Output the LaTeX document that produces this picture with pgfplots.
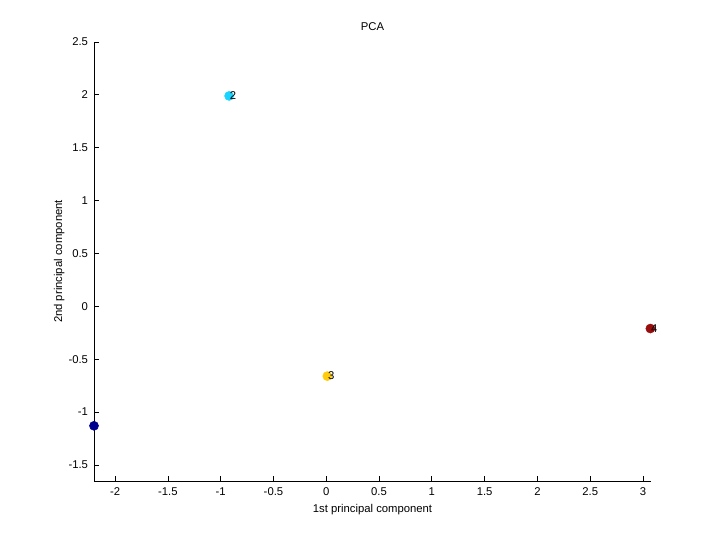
\documentclass[border=0pt]{standalone}
\usepackage{fontspec}
\setmainfont{Liberation Sans}
\usepackage{pgfplots}
\pgfplotsset{compat=1.18}
\definecolor{cA}{rgb}{0,0,0.56}
\definecolor{cB}{rgb}{0.1,0.83,1}
\definecolor{cC}{rgb}{1,0.8,0.05}
\definecolor{cD}{rgb}{0.6,0.05,0.05}
\begin{document}
\fontsize{8.5}{10}\selectfont
\begin{tikzpicture}
\path[use as bounding box,fill=white] (0bp,0bp) rectangle (540bp,405bp);
\begin{axis}[
  at={(70.5bp,44.25bp)}, anchor=south west,
  scale only axis, width=417.75bp, height=329.25bp,
  xmin=-2.2, xmax=3.076, ymin=-1.652, ymax=2.5,
  axis x line=bottom, axis y line=left,
  axis line style={-, line width=0.75pt},
  tick align=inside, major tick length=3.75bp,
  tick style={line width=0.6pt, black},
  xtick={-2,-1.5,...,3}, ytick={-1.5,-1,...,2.5},
  /pgf/number format/assume math mode=true,
  /pgf/number format/fixed,
  ticklabel style={font=\fontsize{8.5}{10}\selectfont},
  xticklabel style={yshift=-2bp},
  yticklabel style={xshift=-1.5bp},
  clip=false,
  nodes near coords={\pgfplotspointmeta},
  point meta=explicit symbolic,
  every node near coord/.append style={anchor=west, xshift=-2.5bp, black, font=\fontsize{8.5}{10}\selectfont},
]
\addplot[only marks, mark=*, mark size=3.4bp, color=cA, nodes near coords={}] coordinates {(-2.2,-1.13)};
\addplot[only marks, mark=*, mark size=3.4bp, color=cB] coordinates {(-0.92,1.99) [2]};
\addplot[only marks, mark=*, mark size=3.4bp, color=cC] coordinates {(0.01,-0.66) [3]};
\addplot[only marks, mark=*, mark size=3.4bp, color=cD] coordinates {(3.07,-0.21) [4]};
\end{axis}
\node[anchor=base] at (279.4bp,381.75bp) {PCA};
\node[anchor=base] at (279.4bp,21bp) {1st principal component};
\node[anchor=base, rotate=90] at (46.5bp,208.9bp) {2nd principal component};
\end{tikzpicture}
\end{document}
